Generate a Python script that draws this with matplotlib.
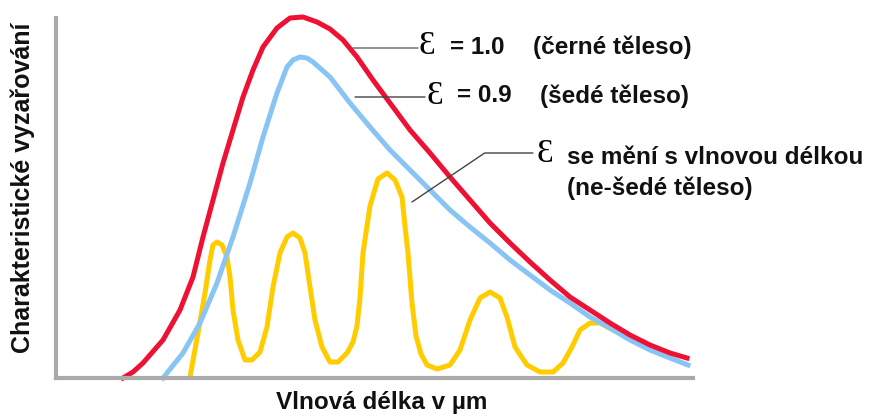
import matplotlib
matplotlib.use('Agg')
import matplotlib.pyplot as plt

# curves (arbitrary units: wavelength -> radiance)
red_x = [67, 77, 87, 107, 124, 137, 147, 157, 167, 177, 187, 197, 207, 221, 234, 247, 261,
         274, 287, 301, 317, 334, 354, 374, 394, 414, 434, 454, 474, 494, 514, 534, 554,
         574, 594, 614, 631]
red_y = [0, 6, 15, 38, 68, 101, 141, 178, 215, 248, 281, 308, 331, 350, 360, 361, 356,
         349, 338, 321, 298, 275, 248, 225, 201, 178, 155, 135, 116, 98, 81, 68, 55,
         43, 33, 25, 20]

blue_x = [107, 127, 144, 161, 177, 194, 207, 221, 231, 237, 244, 251, 257, 274, 294, 314,
          334, 354, 374, 394, 414, 434, 454, 474, 494, 514, 534, 554, 574, 594, 614, 632]
blue_y = [0, 25, 55, 95, 141, 195, 241, 285, 311, 318, 321, 320, 316, 301, 275, 251,
          228, 208, 188, 168, 151, 135, 118, 103, 88, 75, 61, 50, 38, 28, 20, 13]

yel_x = [134, 142, 149, 154, 157, 161, 166, 171, 174, 177, 182, 189, 196, 204, 211, 217,
         224, 231, 237, 244, 249, 254, 259, 266, 274, 282, 291, 297, 301, 304, 307, 311,
         314, 322, 331, 339, 346, 349, 352, 356, 360, 365, 371, 381, 394, 404, 414, 424,
         434, 444, 451, 459, 471, 484, 497, 507, 516, 524, 534, 544, 557, 567]
yel_y = [1, 45, 85, 118, 133, 136, 133, 121, 101, 68, 38, 18, 18, 26, 51, 91,
         125, 141, 145, 140, 125, 91, 58, 31, 16, 16, 25, 36, 52, 80, 125, 152,
         172, 199, 205, 198, 181, 152, 125, 75, 42, 24, 13, 9, 13, 28, 58, 80,
         86, 80, 61, 31, 13, 6, 6, 15, 31, 48, 55, 55, 48, 43]

fig = plt.figure(figsize=(8.74, 4.16), dpi=100)
ax = fig.add_axes([56/874, 38/416, 637/874, 360/416])
ax.set_xlim(0, 637)
ax.set_ylim(0, 360)

lw = 3.6
ax.plot(yel_x, yel_y, color='#ffcc00', lw=lw, solid_joinstyle='round', clip_on=False, zorder=2)
ax.plot(blue_x, blue_y, color='#88c4f4', lw=lw, solid_joinstyle='round', clip_on=False, zorder=2.1)
ax.plot(red_x, red_y, color='#ee1133', lw=lw, solid_joinstyle='round', clip_on=False, zorder=2.2)

for s in ['top', 'right']:
    ax.spines[s].set_visible(False)
for s in ['left', 'bottom']:
    ax.spines[s].set_color('#aaaaaa')
    ax.spines[s].set_linewidth(3)
    ax.spines[s].set_zorder(3)
ax.set_xticks([])
ax.set_yticks([])

# leader lines
lc = '#444444'
ax.annotate('', xy=(297, 330), xytext=(362, 330),
            arrowprops=dict(arrowstyle='-', color='#666666', lw=1, shrinkA=0, shrinkB=0))
ax.annotate('', xy=(299, 281), xytext=(369, 281),
            arrowprops=dict(arrowstyle='-', color=lc, lw=1, shrinkA=0, shrinkB=0))
ax.annotate('', xy=(356, 176), xytext=(477, 225),
            arrowprops=dict(arrowstyle='-', color=lc, lw=1, shrinkA=0, shrinkB=0,
                            connectionstyle='angle,angleA=180,angleB=34'))

eps = dict(family=['Liberation Serif', 'DejaVu Serif'], fontsize=24, va='center', ha='left')
txt = dict(family=['Liberation Sans', 'DejaVu Sans'], fontsize=17.5, fontweight='bold',
           va='center', ha='left', color='#111111')

ax.text(363, 332, 'Ɛ', **eps)
ax.text(394, 331, '= 1.0', **txt)
ax.text(477, 331, '(černé těleso)', **txt)
ax.text(371, 282, 'Ɛ', **eps)
ax.text(401, 282, '= 0.9', **txt)
ax.text(484, 282, '(šedé těleso)', **txt)
ax.text(480, 224, 'Ɛ', **eps)
ax.text(511, 221, 'se mění s vlnovou délkou', **txt)
ax.text(511, 190, '(ne-šedé těleso)', **txt)

fig.text(382/874, 1 - 402/416, 'Vlnová délka v µm', ha='center', va='center',
         family=['Liberation Sans', 'DejaVu Sans'], fontsize=17.5, fontweight='bold', color='#111111')
fig.text(23/874, 1 - 188/416, 'Charakteristické vyzařování', ha='center', va='center',
         rotation=90, family=['Liberation Sans', 'DejaVu Sans'], fontsize=18,
         fontweight='bold', color='#111111')

fig.savefig('out.png', dpi=100)
